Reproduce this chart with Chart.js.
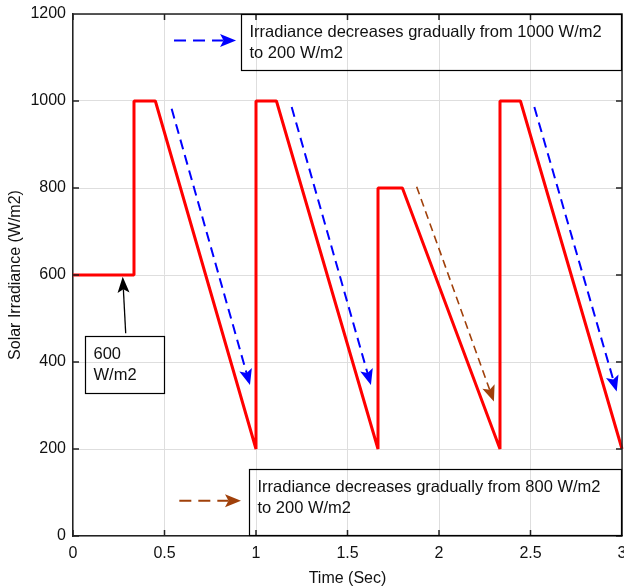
<!DOCTYPE html>
<html><head><meta charset="utf-8">
<script src="https://cdn.jsdelivr.net/npm/chart.js@4/dist/chart.umd.min.js"></script>
<style>html,body{margin:0;padding:0;background:#fff}#wrap{width:624px;height:588px}</style>
</head><body><div id="wrap"><canvas id="c" width="624" height="588"></canvas></div>
<script>
// ---- data ----
const timeSec    = [0, 0.3333, 0.3333, 0.45, 1.0, 1.0, 1.1117, 1.6667, 1.6667, 1.80, 2.3333, 2.3333, 2.445, 3.0];
const irradiance = [600, 600, 1000, 1000, 200, 1000, 1000, 200, 800, 800, 200, 1000, 1000, 200];
const xTickValues = [0, 0.5, 1, 1.5, 2, 2.5, 3];
const yTickValues = [0, 200, 400, 600, 800, 1000, 1200];

// annotation anchors in data coordinates (time, irradiance)
const slantArrows = [
  {from:[0.539, 982], to:[0.967, 347], color:'#0000ff', width:2,   dash:[10,6]},
  {from:[1.195, 986], to:[1.628, 347], color:'#0000ff', width:2,   dash:[10,6]},
  {from:[2.521, 986], to:[2.971, 332], color:'#0000ff', width:2,   dash:[10,6]},
  {from:[1.878, 803], to:[2.300, 309], color:'#a0400a', width:1.6, dash:[8,5]}
];
const keyArrows = [
  {from:[0.552, 1139], to:[0.891, 1139], color:'#0000ff', width:2, dash:[12,7]},
  {from:[0.581, 81],   to:[0.918, 81],   color:'#a0400a', width:2, dash:[12,7]}
];
const pointerArrow = {from:[0.288, 466], to:[0.2716, 596], color:'#000000', width:1.3};
const textBoxes = [
  {x0:0.916, y0:1200, x1:3.0,   y1:1070, lines:['Irradiance decreases gradually from 1000 W/m2', 'to 200 W/m2']},
  {x0:0.962, y0:153,  x1:3.0,   y1:0,    lines:['Irradiance decreases gradually from 800 W/m2', 'to 200 W/m2']},
  {x0:0.0656,y0:460,  x1:0.503, y1:326,  lines:['600', 'W/m2']}
];

const FONT = 'Liberation Sans, Arial, Helvetica, sans-serif';

function drawArrow(ctx, x1, y1, x2, y2, color, width, dash, headLen, headW) {
  const dx = x2 - x1, dy = y2 - y1, len = Math.hypot(dx, dy);
  const ux = dx / len, uy = dy / len, px = -uy, py = ux;
  const notch = headLen * 0.78;
  ctx.save();
  ctx.strokeStyle = color; ctx.lineWidth = width; ctx.setLineDash(dash || []);
  ctx.beginPath(); ctx.moveTo(x1, y1); ctx.lineTo(x2 - ux * notch, y2 - uy * notch); ctx.stroke();
  ctx.setLineDash([]); ctx.fillStyle = color;
  ctx.beginPath();
  ctx.moveTo(x2, y2);
  ctx.lineTo(x2 - ux * headLen + px * headW / 2, y2 - uy * headLen + py * headW / 2);
  ctx.lineTo(x2 - ux * notch, y2 - uy * notch);
  ctx.lineTo(x2 - ux * headLen - px * headW / 2, y2 - uy * headLen - py * headW / 2);
  ctx.closePath(); ctx.fill();
  ctx.restore();
}

const frameAndTicks = {
  id: 'frameAndTicks',
  afterDatasetsDraw(chart) {
    const {ctx, chartArea: a, scales: {x, y}} = chart;
    ctx.save();
    ctx.strokeStyle = '#222'; ctx.lineWidth = 1.5;
    ctx.beginPath();
    ctx.moveTo(a.left, a.top); ctx.lineTo(a.right, a.top); ctx.lineTo(a.right, a.bottom);
    const L = 6;
    xTickValues.forEach(v => {
      const p = x.getPixelForValue(v);
      ctx.moveTo(p, a.bottom); ctx.lineTo(p, a.bottom - L);
      ctx.moveTo(p, a.top); ctx.lineTo(p, a.top + L);
    });
    yTickValues.forEach(v => {
      const p = y.getPixelForValue(v);
      ctx.moveTo(a.left, p); ctx.lineTo(a.left + L, p);
      ctx.moveTo(a.right, p); ctx.lineTo(a.right - L, p);
    });
    ctx.stroke();
    ctx.restore();
  }
};

const annotations = {
  id: 'annotations',
  afterDraw(chart) {
    const {ctx, scales: {x, y}} = chart;
    const P = (pt) => [x.getPixelForValue(pt[0]), y.getPixelForValue(pt[1])];
    slantArrows.concat(keyArrows).forEach(ar => {
      const [x1, y1] = P(ar.from), [x2, y2] = P(ar.to);
      drawArrow(ctx, x1, y1, x2, y2, ar.color, ar.width, ar.dash, 16, 13);
    });
    {
      const [x1, y1] = P(pointerArrow.from), [x2, y2] = P(pointerArrow.to);
      drawArrow(ctx, x1, y1, x2, y2, pointerArrow.color, pointerArrow.width, [], 16, 12);
    }
    ctx.save();
    ctx.font = '16.5px ' + FONT;
    ctx.textBaseline = 'middle'; ctx.textAlign = 'left';
    textBoxes.forEach(b => {
      const l = Math.round(x.getPixelForValue(b.x0)) + 0.5, r = Math.round(x.getPixelForValue(b.x1)) - 0.5;
      const t = Math.round(y.getPixelForValue(b.y0)) + 0.5, bt = Math.round(y.getPixelForValue(b.y1)) - 0.5;
      ctx.strokeStyle = '#000'; ctx.lineWidth = 1.2;
      ctx.strokeRect(l, t, r - l, bt - t);
      ctx.fillStyle = '#111';
      b.lines.forEach((s, i) => ctx.fillText(s, l + 8, t + 18 + i * 21));
    });
    ctx.restore();
  }
};

new Chart(document.getElementById('c'), {
  type: 'line',
  data: {
    datasets: [{
      data: timeSec.map((t, i) => ({x: t, y: irradiance[i]})),
      borderColor: '#ff0000', borderWidth: 3, pointRadius: 0, tension: 0,
      fill: false, clip: false, borderJoinStyle: 'bevel'
    }]
  },
  options: {
    responsive: false, animation: false, devicePixelRatio: 1,
    layout: {padding: {top: 14, right: 2, left: 0, bottom: 0}},
    plugins: {legend: {display: false}, tooltip: {enabled: false}},
    scales: {
      x: {
        type: 'linear', min: 0, max: 3,
        afterBuildTicks: s => { s.ticks = xTickValues.map(v => ({value: v})); },
        ticks: {callback: v => String(v), color: '#111', font: {family: FONT, size: 16}, padding: 8, maxRotation: 0, autoSkip: false},
        grid: {color: '#dedede', lineWidth: 1, drawTicks: false},
        border: {color: '#222', width: 1.5},
        title: {display: true, text: 'Time (Sec)', color: '#111', font: {family: FONT, size: 16}, padding: {top: 0, bottom: 0}},
        afterFit: s => { s.height = 52; s.paddingLeft = 0; s.paddingRight = 0; }
      },
      y: {
        type: 'linear', min: 0, max: 1200,
        afterBuildTicks: s => { s.ticks = yTickValues.map(v => ({value: v})); },
        ticks: {callback: v => String(v), color: '#111', font: {family: FONT, size: 16}, padding: 7},
        grid: {color: '#dedede', lineWidth: 1, drawTicks: false},
        border: {color: '#222', width: 1.5},
        title: {display: true, text: 'Solar Irradiance (W/m2)', color: '#111', font: {family: FONT, size: 16}, padding: {top: 6, bottom: 4}},
        afterFit: s => { s.width = 73; s.paddingTop = 0; s.paddingBottom = 0; }
      }
    }
  },
  plugins: [frameAndTicks, annotations]
});
</script>
</body></html>
